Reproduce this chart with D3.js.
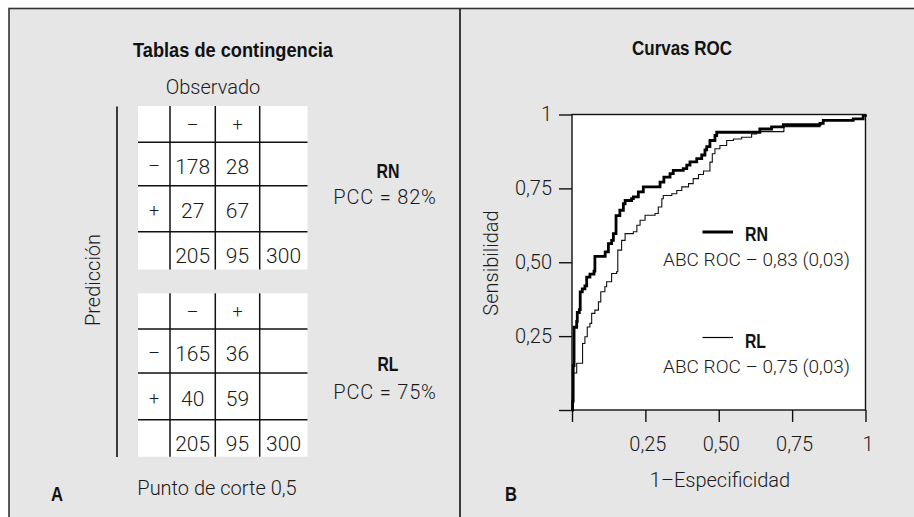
<!DOCTYPE html>
<html lang="es">
<head>
<meta charset="UTF-8">
<title>Tablas de contingencia y curvas ROC</title>
<script src="https://d3js.org/d3.v7.min.js"></script>
<style>
  body { margin: 0; background: #fff; }
  text { font-family: "Roboto", "Liberation Sans", sans-serif; font-weight: 300; fill: #1a1a1a; }
  .bold { font-family: "Liberation Sans", sans-serif; font-weight: 700; fill: #111; }
</style>
</head>
<body>
<script>
// --- data -----------------------------------------------------------
const colHeads = ["", "\u2013", "+", ""];
const rowHeads = ["\u2013", "+", ""];
const rnCounts = [[178, 28], [27, 67]];
const rlCounts = [[165, 36], [40, 59]];
const totals = [205, 95, 300];
const models = ["RN", "RL"];
const pcc = ["PCC = 82%", "PCC = 75%"];
const auc = ["ABC ROC \u2013 0,83 (0,03)", "ABC ROC \u2013 0,75 (0,03)"];

const rnCurve = [[0,0],[0.002,0.03],[0.004,0.15],[0.007,0.28],[0.016,0.30],[0.018,0.33],[0.025,0.34],
  [0.028,0.40],[0.035,0.41],[0.044,0.42],[0.05,0.45],[0.061,0.46],[0.075,0.47],[0.078,0.52],[0.107,0.52],
  [0.113,0.535],[0.124,0.563],[0.135,0.574],[0.141,0.597],[0.15,0.658],[0.163,0.676],[0.175,0.698],
  [0.181,0.709],[0.203,0.715],[0.209,0.721],[0.226,0.738],[0.243,0.755],[0.294,0.755],[0.30,0.771],
  [0.313,0.788],[0.334,0.80],[0.345,0.811],[0.379,0.817],[0.391,0.829],[0.402,0.84],[0.425,0.851],
  [0.442,0.863],[0.453,0.88],[0.459,0.891],[0.47,0.912],[0.487,0.929],[0.493,0.94],[0.618,0.94],
  [0.64,0.951],[0.68,0.958],[0.72,0.966],[0.845,0.97],[0.856,0.98],[0.958,0.985],[0.992,0.997],[1,1]];

const rlCurve = [[0,0],[0.003,0.05],[0.005,0.125],[0.016,0.158],[0.036,0.225],[0.044,0.248],[0.052,0.281],
  [0.061,0.293],[0.067,0.327],[0.078,0.338],[0.09,0.366],[0.098,0.40],[0.112,0.417],[0.118,0.434],
  [0.135,0.462],[0.152,0.468],[0.156,0.541],[0.169,0.574],[0.181,0.597],[0.209,0.603],[0.221,0.625],
  [0.232,0.642],[0.249,0.659],[0.283,0.665],[0.294,0.687],[0.306,0.715],[0.311,0.726],[0.34,0.732],
  [0.357,0.743],[0.374,0.755],[0.397,0.766],[0.413,0.783],[0.431,0.797],[0.448,0.809],[0.47,0.839],
  [0.478,0.867],[0.487,0.884],[0.504,0.895],[0.527,0.912],[0.55,0.917],[0.578,0.923],[0.612,0.934],
  [0.629,0.942],[0.72,0.943],[0.722,0.959],[0.845,0.97],[0.856,0.98],[0.958,0.985],[0.992,0.997],[1,1]];

const axisTicks = [0, 0.25, 0.5, 0.75, 1];
const tickText = ["", "0,25", "0,50", "0,75", "1"];

// --- page -----------------------------------------------------------
const W = 914, H = 517;
const svg = d3.select("body").append("svg").attr("width", W).attr("height", H);

svg.append("rect").attr("x", 9).attr("y", 8.5).attr("width", W + 10).attr("height", H + 10)
  .attr("fill", "#e6e6e6").attr("stroke", "#333").attr("stroke-width", 1.6);
svg.append("line").attr("x1", 460).attr("x2", 460).attr("y1", 9).attr("y2", H)
  .attr("stroke", "#111").attr("stroke-width", 1.6);

// condensed bold headings: squeeze Liberation Sans Bold to the measured width
function bold(g, tx, ty, str, width, anchor) {
  return g.append("text").attr("class", "bold").attr("x", tx).attr("y", ty).attr("dy", "0.36em")
    .attr("text-anchor", anchor || "middle").style("font-size", "21px")
    .attr("textLength", width).attr("lengthAdjust", "spacingAndGlyphs").text(str);
}

// --- panel A: contingency tables ------------------------------------
const A = svg.append("g");
bold(A, 233, 49, "Tablas de contingencia", 200);
A.append("text").attr("x", 213).attr("y", 87).attr("dy", "0.36em").attr("text-anchor", "middle")
  .style("font-size", "20px").text("Observado");
A.append("line").attr("x1", 117).attr("x2", 117).attr("y1", 106.5).attr("y2", 457)
  .attr("stroke", "#111").attr("stroke-width", 1.6);
A.append("text").attr("transform", "translate(100,280) rotate(-90)").attr("text-anchor", "middle")
  .style("font-size", "20px").text("Predicción");

const colEdge = d3.scaleOrdinal().domain([0, 1, 2, 3, 4]).range([138, 170, 215.3, 259.7, 307.5]);
const colMid = i => (colEdge(i) + colEdge(i + 1)) / 2;

function table(top, rowEdges, counts) {
  const g = A.append("g");
  const rowEdge = d3.scaleOrdinal().domain([0, 1, 2, 3, 4]).range(rowEdges.map(d => d + top));
  const rowMid = i => (rowEdge(i) + rowEdge(i + 1)) / 2;
  g.append("rect").attr("x", colEdge(0)).attr("y", rowEdge(0))
    .attr("width", colEdge(4) - colEdge(0)).attr("height", rowEdge(4) - rowEdge(0)).attr("fill", "#fff");
  g.selectAll(".h").data([1, 2, 3]).enter().append("line")
    .attr("x1", colEdge(0)).attr("x2", colEdge(4)).attr("y1", d => rowEdge(d)).attr("y2", d => rowEdge(d))
    .attr("stroke", "#111").attr("stroke-width", 1.5);
  g.selectAll(".v").data([1, 2, 3]).enter().append("line")
    .attr("y1", rowEdge(0)).attr("y2", rowEdge(4)).attr("x1", d => colEdge(d)).attr("x2", d => colEdge(d))
    .attr("stroke", "#111").attr("stroke-width", 1.5);

  const cells = [];
  colHeads.forEach((t, c) => cells.push({ r: 0, c: c, t: t }));
  rowHeads.forEach((t, r) => cells.push({ r: r + 1, c: 0, t: t }));
  counts.forEach((row, r) => row.forEach((v, c) => cells.push({ r: r + 1, c: c + 1, t: v })));
  totals.forEach((v, c) => cells.push({ r: 3, c: c + 1, t: v }));
  g.selectAll("text.cell").data(cells).enter().append("text").attr("class", "cell")
    .attr("x", d => colMid(d.c)).attr("y", d => rowMid(d.r) + (d.r === 3 ? 5 : d.r === 0 ? 0 : 2))
    .attr("dy", "0.36em").attr("text-anchor", "middle")
    .style("font-size", d => d.r === 0 || d.c === 0 ? "18px" : "21px").text(d => d.t);
}
table(106, [0, 36.3, 79.7, 125.7, 163.5], rnCounts);
table(293.3, [0, 35.7, 79.7, 126.4, 163.4], rlCounts);

const labelY = [[170.5, 196.5], [363, 392]];
const labelW = [23, 21];
models.forEach((m, i) => {
  bold(A, 388, labelY[i][0], m, labelW[i]);
  A.append("text").attr("x", 385).attr("y", labelY[i][1]).attr("dy", "0.36em")
    .attr("text-anchor", "middle").style("font-size", "20px").style("letter-spacing", "0.8px").text(pcc[i]);
});
bold(A, 57, 493, "A", 12);
A.append("text").attr("x", 217).attr("y", 488).attr("dy", "0.36em")
  .attr("text-anchor", "middle").style("font-size", "20px").text("Punto de corte 0,5");

// --- panel B: ROC curves ---------------------------------------------
const x = d3.scaleLinear().domain([0, 1]).range([572, 865.5]);
const y = d3.scaleLinear().domain([0, 1]).range([410, 114.5]);
const B = svg.append("g");

bold(B, 682, 47, "Curvas ROC", 100);
B.append("rect").attr("x", x(0)).attr("y", y(1)).attr("width", x(1) - x(0)).attr("height", y(0) - y(1))
  .attr("fill", "#fff");

const fmt = d => tickText[axisTicks.indexOf(d)];
const ya = B.append("g").attr("transform", `translate(${x(0)},0)`)
  .call(d3.axisLeft(y).tickValues(axisTicks).tickSize(13).tickPadding(7).tickFormat(fmt));
const xa = B.append("g").attr("transform", `translate(0,${y(0)})`)
  .call(d3.axisBottom(x).tickValues(axisTicks).tickSize(12).tickPadding(15).tickFormat(fmt));
[ya, xa].forEach(a => {
  a.select(".domain").remove();
  a.selectAll("line").attr("stroke", "#111").attr("stroke-width", 1.4);
  a.selectAll("text").style("font-size", "20px").style("font-family", null).attr("fill", "#1a1a1a");
});
xa.selectAll("text").attr("dx", "2px");
B.append("rect").attr("x", x(0)).attr("y", y(1)).attr("width", x(1) - x(0)).attr("height", y(0) - y(1))
  .attr("fill", "none").attr("stroke", "#111").attr("stroke-width", 1.4);

const line = d3.line().x(d => x(d[0])).y(d => y(d[1])).curve(d3.curveStepAfter);
B.append("path").attr("d", line(rlCurve)).attr("fill", "none").attr("stroke", "#111").attr("stroke-width", 1.1);
B.append("path").attr("d", line(rnCurve)).attr("fill", "none").attr("stroke", "#000").attr("stroke-width", 2.8);

B.append("text").attr("transform", "translate(498,263) rotate(-90)").attr("text-anchor", "middle")
  .style("font-size", "20px").text("Sensibilidad");
B.append("text").attr("x", 720).attr("y", 480).attr("dy", "0.36em").attr("text-anchor", "middle")
  .style("font-size", "20px").text("1\u2013Especificidad");
bold(B, 511, 493, "B", 12);

// legend
const legY = [[232, 233.5, 259.5], [337.5, 340.5, 366.5]];
const legW = [3, 1.2];
models.forEach((m, i) => {
  B.append("line").attr("x1", 702.5).attr("x2", 733).attr("y1", legY[i][0]).attr("y2", legY[i][0])
    .attr("stroke", "#000").attr("stroke-width", legW[i]);
  bold(B, 745, legY[i][1], m, labelW[i], "start");
  B.append("text").attr("x", 756.5).attr("y", legY[i][2]).attr("dy", "0.36em").attr("text-anchor", "middle")
    .style("font-size", "19px").text(auc[i]);
});
</script>
</body>
</html>
